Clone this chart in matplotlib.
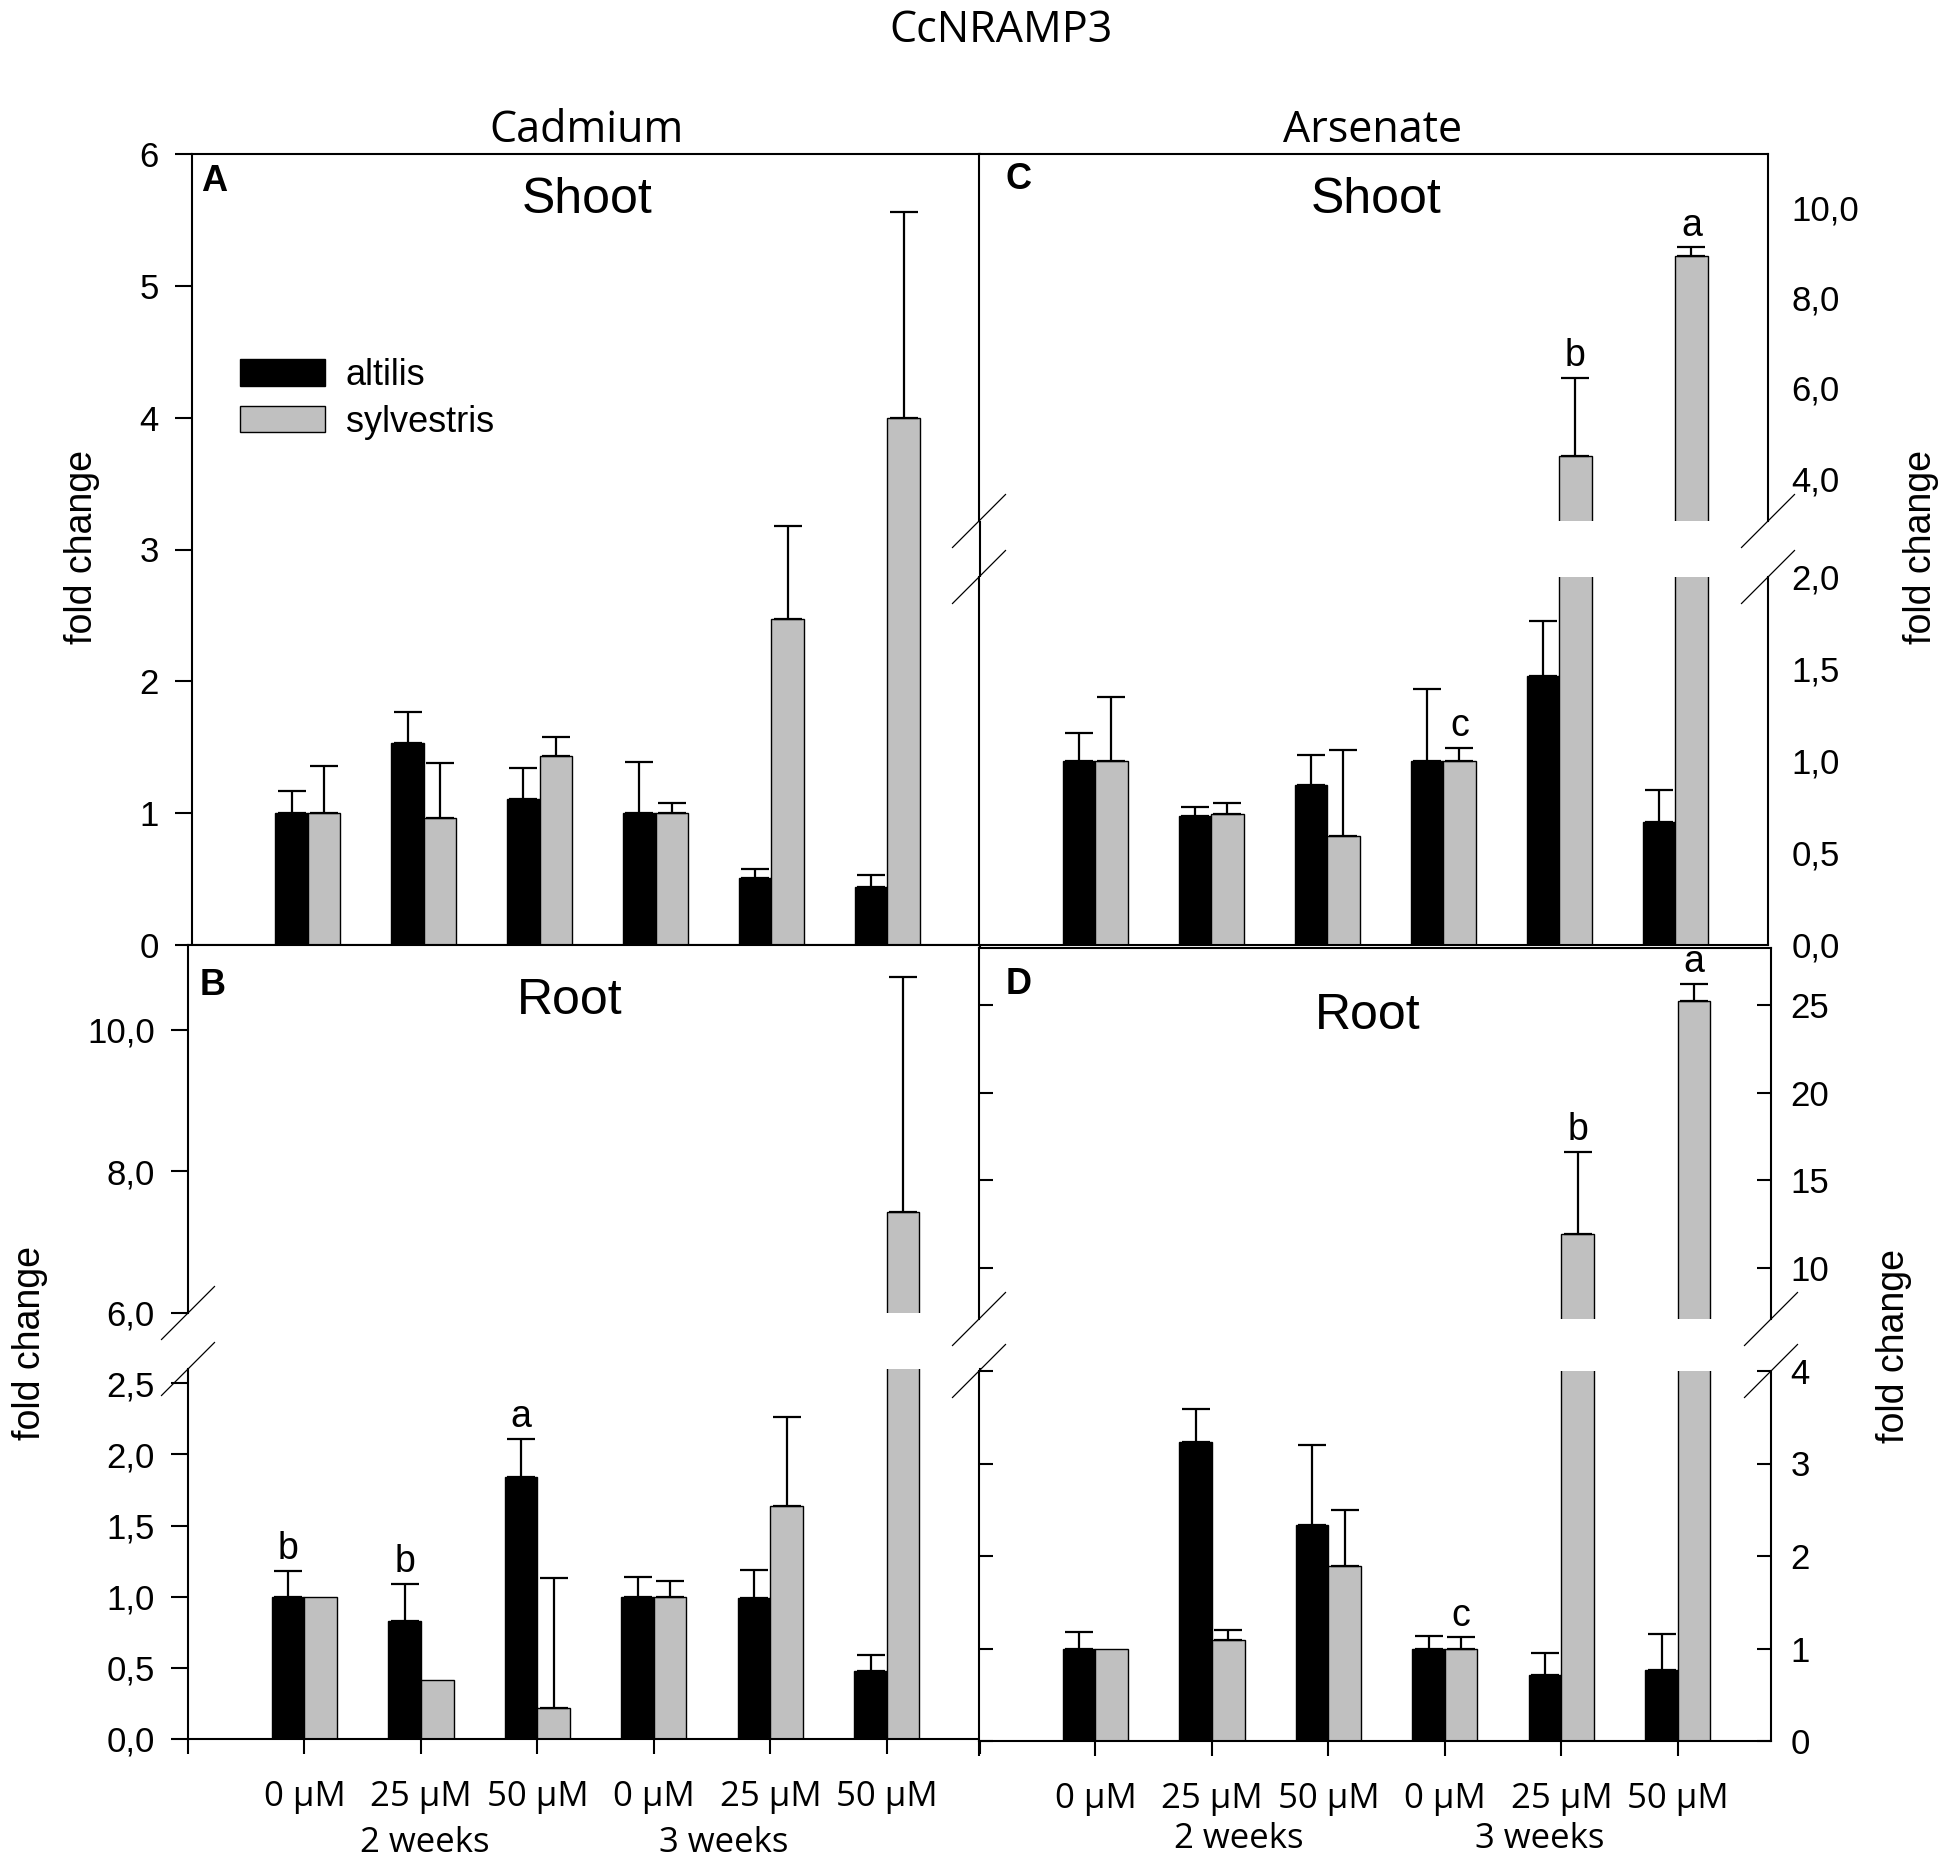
import numpy as np
import matplotlib
matplotlib.use('Agg')
import matplotlib.pyplot as plt
from matplotlib.ticker import MultipleLocator, FuncFormatter
from matplotlib.lines import Line2D
from matplotlib.patches import Patch

plt.rcParams['font.family'] = ['Liberation Sans', 'DejaVu Sans']

# ---------------- data ----------------
categories = ['0 µM', '25 µM', '50 µM', '0 µM', '25 µM', '50 µM']
week_labels = ['2 weeks', '3 weeks']
series_names = ['altilis', 'sylvestris']

# Cadmium - shoot (A)
cd_shoot_altilis = [1.00, 1.53, 1.11, 1.00, 0.51, 0.44]
cd_shoot_altilis_se = [0.17, 0.24, 0.23, 0.39, 0.07, 0.09]
cd_shoot_sylvestris = [1.00, 0.96, 1.43, 1.00, 2.47, 4.00]
cd_shoot_sylvestris_se = [0.36, 0.42, 0.15, 0.08, 0.71, 1.56]

# Cadmium - root (B)
cd_root_altilis = [1.00, 0.83, 1.84, 1.00, 0.99, 0.48]
cd_root_altilis_se = [0.18, 0.26, 0.27, 0.14, 0.20, 0.11]
cd_root_sylvestris = [1.00, 0.415, 0.22, 1.00, 1.64, 7.43]
cd_root_sylvestris_se = [np.nan, np.nan, 0.91, 0.11, 0.62, 3.32]
cd_root_letters_altilis = ['b', 'b', 'a', '', '', '']

# Arsenate - shoot (C)
as_shoot_altilis = [1.00, 0.70, 0.87, 1.00, 1.46, 0.67]
as_shoot_altilis_se = [0.15, 0.05, 0.16, 0.39, 0.30, 0.17]
as_shoot_sylvestris = [1.00, 0.71, 0.59, 1.00, 4.50, 8.92]
as_shoot_sylvestris_se = [0.35, 0.06, 0.47, 0.07, 1.72, 0.20]
as_shoot_letters_sylvestris = ['', '', '', 'c', 'b', 'a']

# Arsenate - root (D)
as_root_altilis = [1.00, 3.23, 2.33, 1.00, 0.71, 0.77]
as_root_altilis_se = [0.18, 0.36, 0.87, 0.13, 0.24, 0.39]
as_root_sylvestris = [1.00, 1.09, 1.89, 1.00, 11.9, 25.26]
as_root_sylvestris_se = [np.nan, 0.11, 0.61, 0.12, 4.70, 0.94]
as_root_letters_sylvestris = ['', '', '', 'c', 'b', 'a']

# ---------------- style ----------------
W, H = 1950, 1864
GRAY = '#c0c0c0'
BW = 0.28
XLIM = (-1, 5.8)
SP_LW = 1.5
TICK_FS = 25
LAB_FONT = 'Open Sans'

fig = plt.figure(figsize=(W / 100, H / 100), dpi=100)


def rect(x0, y0, x1, y1):
    return [x0 / W, 1 - y1 / H, (x1 - x0) / W, (y1 - y0) / H]


def ftext(xp, yp, s, **kw):
    return fig.text(xp / W, 1 - yp / H, s, **kw)


comma = FuncFormatter(lambda v, _: f'{v:.1f}'.replace('.', ','))
intfmt = FuncFormatter(lambda v, _: f'{v:.0f}')


def draw(ax, alt, alt_se, syl, syl_se, letters_alt=None, letters_syl=None):
    x = np.arange(len(categories))
    alt = np.asarray(alt, float); syl = np.asarray(syl, float)
    alt_se = np.asarray(alt_se, float); syl_se = np.asarray(syl_se, float)
    ax.bar(x - BW / 2, alt, BW, color='black', edgecolor='black', lw=1, zorder=2)
    ax.bar(x + BW / 2, syl, BW, color=GRAY, edgecolor='black', lw=1, zorder=2)
    for xs, v, se, letters in ((x - BW / 2, alt, alt_se, letters_alt),
                               (x + BW / 2, syl, syl_se, letters_syl)):
        m = ~np.isnan(se)
        ax.errorbar(xs[m], v[m], yerr=[np.zeros(m.sum()), se[m]], fmt='none',
                    ecolor='black', elinewidth=1.6, capsize=10, capthick=1.6,
                    zorder=3)
        if letters is not None:
            lo, hi = ax.get_ylim()
            for xi, vi, si, lt in zip(xs, v, se, letters):
                if not lt:
                    continue
                top = vi + (0 if np.isnan(si) else si)
                if lo <= top <= hi:
                    ax.annotate(lt, xy=(xi, top), xytext=(0, 8.5),
                                textcoords='offset points', ha='center',
                                va='baseline', fontsize=27, zorder=4)


def base_style(ax):
    ax.set_xlim(*XLIM)
    for s in ax.spines.values():
        s.set_linewidth(SP_LW)
    ax.tick_params(width=SP_LW, labelsize=TICK_FS)


# ---------------- Panel A ----------------
axA = fig.add_axes(rect(192, 154, 980, 945))
base_style(axA)
axA.set_ylim(0, 6)
draw(axA, cd_shoot_altilis, cd_shoot_altilis_se, cd_shoot_sylvestris, cd_shoot_sylvestris_se)
axA.yaxis.set_major_locator(MultipleLocator(1))
axA.yaxis.set_major_formatter(intfmt)
axA.tick_params(axis='y', direction='out', length=12, pad=12)
axA.set_xticks([])
leg = axA.legend(handles=[Patch(facecolor='black', edgecolor='black', lw=1),
                          Patch(facecolor=GRAY, edgecolor='black', lw=1)],
                 labels=series_names, loc='upper left',
                 bbox_to_anchor=(240 / W, 1 - 358 / H), bbox_transform=fig.transFigure,
                 frameon=False, fontsize=26, borderpad=0, borderaxespad=0,
                 handlelength=2.35, handleheight=0.75, handletextpad=0.58,
                 labelspacing=0.32)

# ---------------- Panel B ----------------
axBu = fig.add_axes(rect(188, 945, 980, 1313))
axBl = fig.add_axes(rect(188, 1369, 980, 1739))
for ax in (axBu, axBl):
    base_style(ax)
axBu.set_ylim(6.0, 11.2)
axBl.set_ylim(0, 2.6)
for ax in (axBu, axBl):
    draw(ax, cd_root_altilis, cd_root_altilis_se, cd_root_sylvestris, cd_root_sylvestris_se,
         letters_alt=cd_root_letters_altilis)
    ax.yaxis.set_major_formatter(comma)
    ax.tick_params(axis='y', direction='out', length=12, pad=12)
axBu.yaxis.set_major_locator(MultipleLocator(2))
axBl.yaxis.set_major_locator(MultipleLocator(0.5))
axBu.spines['bottom'].set_visible(False)
axBl.spines['top'].set_visible(False)
axBu.set_xticks([])

# ---------------- Panel C ----------------
axCu = fig.add_axes(rect(979, 154, 1768, 521))
axCl = fig.add_axes(rect(979, 577, 1768, 945))
for ax in (axCu, axCl):
    base_style(ax)
axCu.set_ylim(3.05, 11.19)
axCl.set_ylim(0, 2.0)
for ax in (axCu, axCl):
    draw(ax, as_shoot_altilis, as_shoot_altilis_se, as_shoot_sylvestris, as_shoot_sylvestris_se,
         letters_syl=as_shoot_letters_sylvestris)
    ax.yaxis.set_major_formatter(comma)
    ax.yaxis.tick_right()
    ax.tick_params(axis='y', length=0, pad=17)
    ax.set_xticks([])
axCu.yaxis.set_major_locator(MultipleLocator(2))
axCl.yaxis.set_major_locator(MultipleLocator(0.5))
axCu.spines['bottom'].set_visible(False)
axCl.spines['top'].set_visible(False)

# ---------------- Panel D ----------------
axDu = fig.add_axes(rect(979, 948, 1771, 1319))
axDl = fig.add_axes(rect(979, 1371, 1771, 1741))
for ax in (axDu, axDl):
    base_style(ax)
axDu.set_ylim(7.06, 28.26)
axDl.set_ylim(0, 4.0)
for ax in (axDu, axDl):
    draw(ax, as_root_altilis, as_root_altilis_se, as_root_sylvestris, as_root_sylvestris_se,
         letters_syl=as_root_letters_sylvestris)
    ax.yaxis.set_major_formatter(intfmt)
    ax.tick_params(axis='y', direction='in', left=True, right=True, labelleft=False,
                   labelright=True, length=10, pad=14)
axDu.yaxis.set_major_locator(MultipleLocator(5))
axDl.yaxis.set_major_locator(MultipleLocator(1))
axDu.spines['bottom'].set_visible(False)
axDl.spines['top'].set_visible(False)
axDu.set_xticks([])

# x axes of the bottom panels
cat_pos = list(range(len(categories)))
axBl.set_xticks([XLIM[0]] + cat_pos + [XLIM[1]], [''] + categories + [''],
                fontfamily=LAB_FONT, fontsize=25)
axDl.set_xticks([XLIM[0]] + cat_pos, [''] + categories, fontfamily=LAB_FONT, fontsize=25)
for ax in (axBl, axDl):
    ax.tick_params(axis='x', direction='out', length=11, pad=18.5)

week_pos_B = [1.03, 3.6]
week_pos_D = [1.23, 3.81]
for ax, pos, off in ((axBl, week_pos_B, 81.4), (axDl, week_pos_D, 77.0)):
    for p, lab in zip(pos, week_labels):
        ax.annotate(lab, xy=(p, 0), xycoords=('data', 'axes fraction'),
                    xytext=(0, -off), textcoords='offset points', ha='center',
                    va='baseline', fontfamily=LAB_FONT, fontsize=25, annotation_clip=False)


# ---------------- axis break marks ----------------
def break_marks(ax_up, ax_lo, sides):
    pu = ax_up.get_position()
    pl = ax_lo.get_position()
    dx, dy = 26.5 / W, 26.5 / H
    for side in sides:
        xs = pu.x0 if side == 'left' else pu.x1
        for yc in (pu.y0, pl.y1):
            fig.add_artist(Line2D([xs - dx, xs + dx], [yc - dy, yc + dy], color='black',
                                  lw=0.9, transform=fig.transFigure))


break_marks(axCu, axCl, ['left', 'right'])
break_marks(axBu, axBl, ['left'])
break_marks(axDu, axDl, ['left', 'right'])

# ---------------- texts ----------------
ftext(1001, 42, 'CcNRAMP3', ha='center', va='baseline', fontfamily=LAB_FONT, fontsize=31)
ftext(587, 142, 'Cadmium', ha='center', va='baseline', fontfamily=LAB_FONT, fontsize=31)
ftext(1373, 142, 'Arsenate', ha='center', va='baseline', fontfamily=LAB_FONT, fontsize=31)

ftext(587, 213, 'Shoot', ha='center', va='baseline', fontsize=36)
ftext(1376, 213, 'Shoot', ha='center', va='baseline', fontsize=36)
ftext(570, 1014, 'Root', ha='center', va='baseline', fontsize=36)
ftext(1368, 1029, 'Root', ha='center', va='baseline', fontsize=36)

ftext(201, 191, 'A', ha='left', va='baseline', fontsize=26, fontweight='bold')
ftext(200, 995, 'B', ha='left', va='baseline', fontsize=26, fontweight='bold')
ftext(1006, 189, 'C', ha='left', va='baseline', fontsize=26, fontweight='bold')
ftext(1006, 994, 'D', ha='left', va='baseline', fontsize=26, fontweight='bold')

for xp, yp in ((82, 547), (30, 1343), (1921, 547), (1894, 1346)):
    ftext(xp, yp, 'fold change', ha='center', va='center', rotation=90, fontsize=27)

fig.savefig('out.png', dpi=100)
